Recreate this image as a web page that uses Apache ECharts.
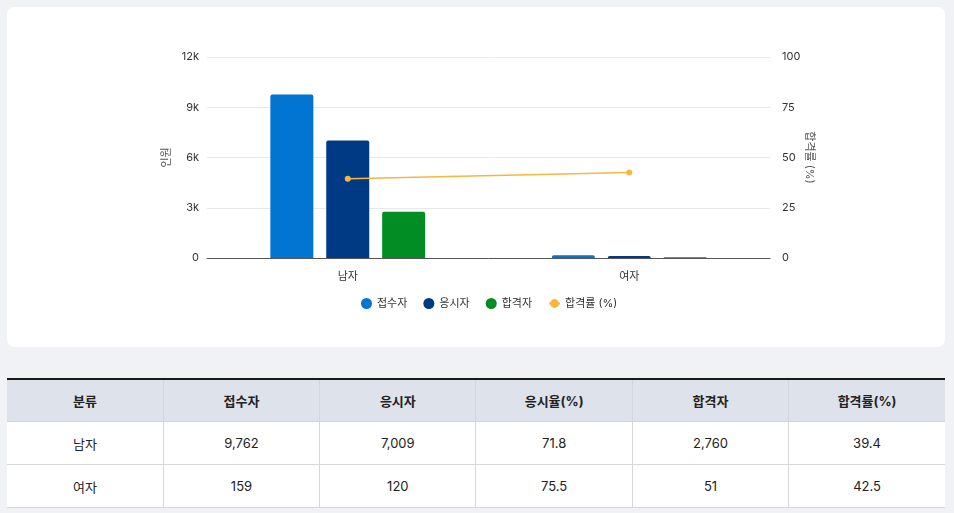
<!DOCTYPE html>
<html><head><meta charset="utf-8">
<script src="https://cdn.jsdelivr.net/npm/echarts@6/dist/echarts.min.js"></script>
<style>
html,body{margin:0;padding:0;background:#f0f2f5;font-family:Inter,"Noto Sans CJK KR",sans-serif;}
#card{position:absolute;left:7px;top:7px;width:938px;height:340px;background:#fff;border-radius:8px;}
#chart{width:938px;height:340px;}
table{position:absolute;left:7px;top:378px;width:938px;border-collapse:collapse;table-layout:fixed;background:#fff;}
th,td{height:42px;text-align:center;font-size:13px;color:#222;border:1px solid #d4d6da;padding:0;}
th{background:#dee2ea;font-weight:700;border-top:2px solid #1a1a1a;height:41px;}
tr>*:first-child{border-left:none;} tr>*:last-child{border-right:none;}
</style></head><body>
<div id="card"><div id="chart"></div></div>
<table id="tbl"></table>
<script>
const categories = ['남자','여자'];
const applicants = [9762, 159];
const examinees = [7009, 120];
const passers = [2760, 51];
const passRate = [39.4, 42.5];
const examRate = [71.8, 75.5];
const tableHeaders = ['분류','접수자','응시자','응시율(%)','합격자','합격률(%)'];

const chart = echarts.init(document.getElementById('chart'));
const axisLabel = {color:'#333', fontSize:11, fontFamily:'Inter, "Noto Sans CJK KR"'};
chart.setOption({
  animation:false,
  textStyle:{fontFamily:'Inter, "Noto Sans CJK KR"'},
  grid:{left:200, right:175, top:50, bottom:89},
  legend:{top:286, left:349, itemWidth:11, itemHeight:11, itemGap:16,
    textStyle:{color:'#333', fontSize:11},
    data:[{name:'접수자',icon:'circle'},{name:'응시자',icon:'circle'},{name:'합격자',icon:'circle'},{name:'합격률 (%)'}]},
  xAxis:{type:'category', data:categories, axisTick:{show:false},
    axisLine:{lineStyle:{color:'#555'}}, axisLabel:{...axisLabel, margin:13}},
  yAxis:[
    {type:'value', min:0, max:12000, interval:3000, name:'인원', nameLocation:'middle', nameRotate:90, nameGap:35,
     nameMoveOverlap:false,
     nameTextStyle:{color:'#555', fontSize:11},
     axisLabel:{...axisLabel, formatter:v=> v===0?'0':(v/1000)+'k'},
     splitLine:{lineStyle:{color:'#e9e9e9'}}},
    {type:'value', min:0, max:100, interval:25, name:'합격률 (%)', nameLocation:'middle', nameRotate:-90, nameGap:34,
     nameMoveOverlap:false,
     nameTextStyle:{color:'#555', fontSize:11},
     axisLabel:{...axisLabel, margin:12}, splitLine:{show:false}}
  ],
  series:[
    {name:'접수자', type:'bar', data:applicants, barWidth:43, barGap:'30%', itemStyle:{color:'#0274d2', borderRadius:[2,2,0,0]}},
    {name:'응시자', type:'bar', data:examinees, barWidth:43, barGap:'30%', itemStyle:{color:'#003984', borderRadius:[2,2,0,0]}},
    {name:'합격자', type:'bar', data:passers, barWidth:43, barGap:'30%', itemStyle:{color:'#028c24', borderRadius:[2,2,0,0]}},
    {name:'합격률 (%)', type:'line', yAxisIndex:1, data:passRate, symbol:'circle', symbolSize:6,
     lineStyle:{color:'#f6b73c', width:1.5}, itemStyle:{color:'#f6b73c'}}
  ]
});

const fmt = n => n.toLocaleString('en-US');
let html = '<tr>' + tableHeaders.map(h=>'<th>'+h+'</th>').join('') + '</tr>';
categories.forEach((c,i)=>{
  html += '<tr><td>'+c+'</td><td>'+fmt(applicants[i])+'</td><td>'+fmt(examinees[i])+'</td><td>'+examRate[i].toFixed(1)+
    '</td><td>'+fmt(passers[i])+'</td><td>'+passRate[i].toFixed(1)+'</td></tr>';
});
document.getElementById('tbl').innerHTML = html;
</script>
</body></html>
